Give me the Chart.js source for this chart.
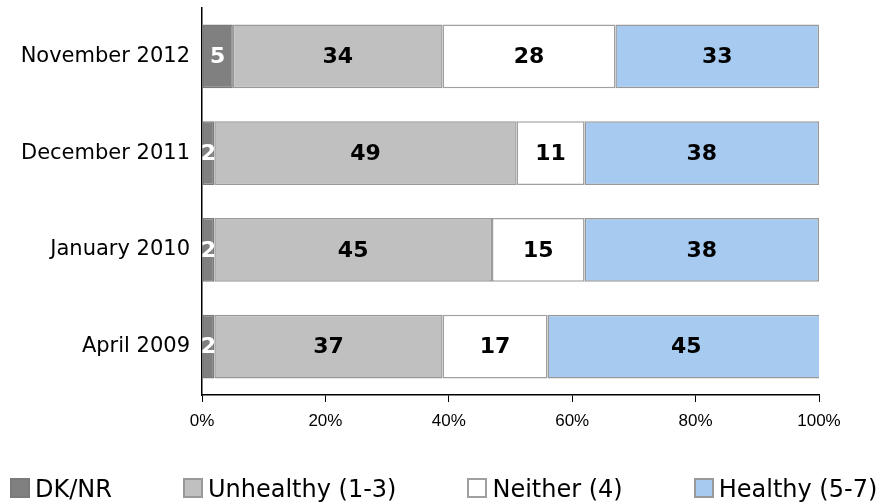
<!DOCTYPE html>
<html>
<head>
<meta charset="utf-8">
<script src="https://cdn.jsdelivr.net/npm/chart.js@4.4.1/dist/chart.umd.min.js"></script>
<style>
  html, body { margin: 0; padding: 0; background: #fff; }
  #wrap { position: relative; width: 886px; height: 504px; }
  #legend {
    position: absolute; left: 10px; top: 478px;
    display: flex; gap: 71px;
    font-family: "DejaVu Sans"; font-size: 24px; color: #000;
  }
  .item { display: flex; align-items: flex-end; height: 20px; line-height: 20px; white-space: nowrap; }
  .box { width: 20px; height: 20px; box-sizing: border-box; border: 2px solid #999; margin-right: 5px; }
  .item span { position: relative; top: 1px; }
</style>
</head>
<body>
<div id="wrap">
  <canvas id="healthChart" width="886" height="504"></canvas>
  <div id="legend"></div>
</div>
<script>
const surveys = ["November 2012", "December 2011", "January 2010", "April 2009"];

const dkNr = [5, 2, 2, 2];
const unhealthy = [34, 49, 45, 37];
const neither = [28, 11, 15, 17];
const healthy = [33, 38, 38, 45];

const xTicks = [0, 20, 40, 60, 80, 100];

const seriesNames = ["DK/NR", "Unhealthy (1-3)", "Neither (4)", "Healthy (5-7)"];
const fills = ["#808080", "#c0c0c0", "#ffffff", "#a6caf0"];
const borders = ["#7a7a7a", "#999999", "#a0a0a0", "#999999"];
const labelColors = ["#ffffff", "#000000", "#000000", "#000000"];

const barLabels = {
  id: "barLabels",
  afterDatasetsDraw(chart) {
    const ctx = chart.ctx;
    ctx.save();
    ctx.font = 'bold 22px "DejaVu Sans"';
    ctx.textAlign = "center";
    ctx.textBaseline = "middle";
    chart.data.datasets.forEach((ds, i) => {
      chart.getDatasetMeta(i).data.forEach((bar, j) => {
        const p = bar.getCenterPoint();
        ctx.fillStyle = labelColors[i];
        ctx.fillText(ds.data[j], p.x, p.y + 1);
      });
    });
    ctx.restore();
  }
};

function renderHealthChart() {
  const ctx = document.getElementById("healthChart").getContext("2d");
  const values = [dkNr, unhealthy, neither, healthy];

  new Chart(ctx, {
    type: "bar",
    data: {
      labels: surveys,
      datasets: values.map((data, i) => ({
        label: seriesNames[i],
        data: data,
        backgroundColor: fills[i],
        borderColor: borders[i],
        borderWidth: 1.5,
        borderSkipped: false,
        barPercentage: 0.66,
        categoryPercentage: 1
      }))
    },
    options: {
      indexAxis: "y",
      responsive: false,
      animation: false,
      layout: { padding: { top: 8, right: 67, left: 0, bottom: 0 } },
      plugins: {
        legend: { display: false },
        tooltip: { enabled: false }
      },
      scales: {
        x: {
          stacked: true,
          min: 0,
          max: 100,
          afterFit: (scale) => { scale.height = 109; },
          afterBuildTicks: (scale) => { scale.ticks = xTicks.map(v => ({ value: v })); },
          grid: { drawOnChartArea: false, drawTicks: true, tickLength: 7, color: "#000" },
          border: { display: true, color: "#000", width: 1.5 },
          ticks: {
            padding: 9,
            color: "#000",
            font: { family: "Liberation Sans", size: 17 },
            callback: (v) => v + "%"
          }
        },
        y: {
          stacked: true,
          afterFit: (scale) => {
            scale.width = 202;
            scale.paddingTop = 0;
            scale.paddingBottom = 0;
          },
          grid: { display: false, drawTicks: false },
          border: { display: true, color: "#000", width: 1.5 },
          ticks: {
            padding: 12,
            color: "#000",
            font: { family: "DejaVu Sans", size: 21 }
          }
        }
      }
    },
    plugins: [barLabels]
  });

  const legend = document.getElementById("legend");
  seriesNames.forEach((name, i) => {
    const item = document.createElement("div");
    item.className = "item";
    item.innerHTML = '<div class="box" style="background:' + fills[i] + ';border-color:' + borders[i] + '"></div><span>' + name + "</span>";
    legend.appendChild(item);
  });
}

document.addEventListener("DOMContentLoaded", () => {
  renderHealthChart();
});
</script>
</body>
</html>
